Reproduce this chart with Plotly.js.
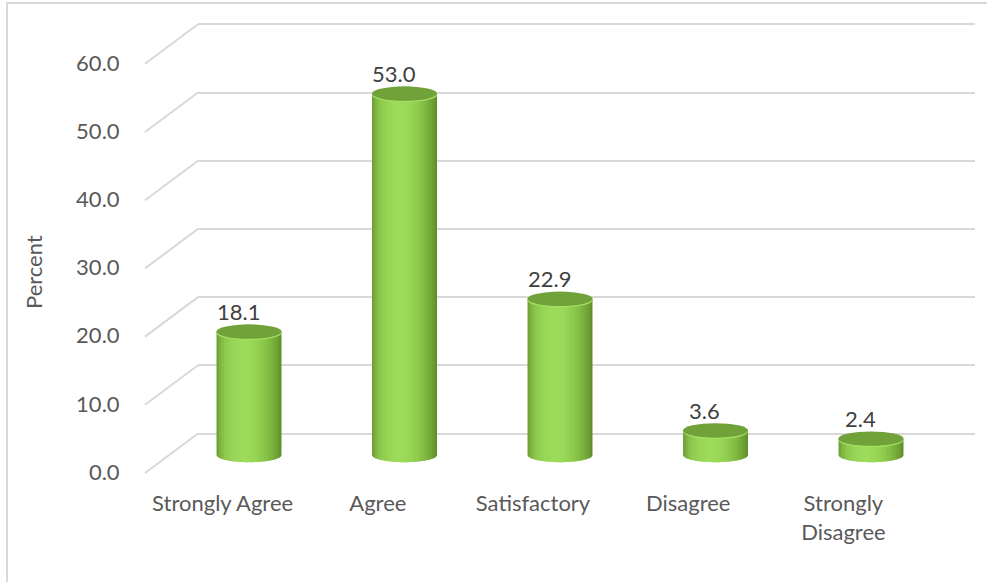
<!DOCTYPE html>
<html><head><meta charset="utf-8">
<script src="https://cdn.plot.ly/plotly-3.0.1.min.js"></script>
<style>html,body{margin:0;padding:0;background:#fff}#chart{width:987px;height:582px}</style>
</head><body><div id="chart"></div>
<script>
// ---- data ----
const categories = ["Strongly Agree", "Agree", "Satisfactory", "Disagree", "Strongly Disagree"];
const categoryLabels = ["Strongly Agree", "Agree", "Satisfactory", "Disagree", "Strongly<br>Disagree"];
const percentValues = [18.1, 53.0, 22.9, 3.6, 2.4];
const yTickValues = [0, 10, 20, 30, 40, 50, 60];
const yTickLabels = ["0.0", "10.0", "20.0", "30.0", "40.0", "50.0", "60.0"];
const yAxisTitle = "Percent";

// ---- geometry (pixels) ----
const W = 987, H = 582, MT = 20, MB = 102;
const plotTop = MT, plotBottom = H - MB, plotH = plotBottom - plotTop;
const PX_PER_UNIT = 6.82;
function rangeFor(zeroPx) { return [-(plotBottom - zeroPx) / PX_PER_UNIT, (zeroPx - plotTop) / PX_PER_UNIT]; }
function pX(px) { return px / W; }
function pY(py) { return (plotBottom - py) / plotH; }

const BACK_ZERO = 433.5, MID_ZERO = 455, FRONT_ZERO = 472;
const BACK_LEFT = 198, BACK_RIGHT = 975;
const MID_LEFT = 171.25, MID_RIGHT = 948.75;
const FRONT_LEFT = 145, FRONT_RIGHT = 921;

const idx = categories.map((_, i) => i);
const BAR_W = 0.418;
const ELL = 7.2 / PX_PER_UNIT; // half-height of end ellipses in data units

// cylinder shading profile across the width (fraction -> colour)
const shadeStops = [
  [0.00, [104, 150, 50]],
  [0.04, [122, 176, 62]],
  [0.12, [140, 199, 76]],
  [0.25, [152, 213, 86]],
  [0.42, [157, 220, 92]],
  [0.58, [152, 214, 86]],
  [0.72, [140, 200, 75]],
  [0.85, [124, 180, 62]],
  [0.95, [106, 156, 50]],
  [1.00, [92, 138, 42]]
];
function shadeAt(f) {
  for (let k = 1; k < shadeStops.length; k++) {
    if (f <= shadeStops[k][0]) {
      const [f0, c0] = shadeStops[k - 1], [f1, c1] = shadeStops[k];
      const t = (f - f0) / (f1 - f0);
      const c = c0.map((v, j) => Math.round(v + (c1[j] - v) * t));
      return 'rgb(' + c.join(',') + ')';
    }
  }
  return 'rgb(' + shadeStops[shadeStops.length - 1][1].join(',') + ')';
}
const NSTRIP = 26;
const strips = [];
for (let k = 0; k < NSTRIP; k++) {
  const a = k / NSTRIP, b = Math.min(1, (k + 1.6) / NSTRIP);
  strips.push([a, b, shadeAt((k + 0.5) / NSTRIP)]);
}

const traces = [];
traces.push({type: 'scatter', x: [], y: [], xaxis: 'x', yaxis: 'y', hoverinfo: 'skip', showlegend: false});
strips.forEach(([a, b, c]) => {
  traces.push({
    type: 'bar', x: idx, y: percentValues, xaxis: 'x2', yaxis: 'y2',
    width: (b - a) * BAR_W, offset: -BAR_W / 2 + a * BAR_W,
    marker: {color: c, line: {width: 0}}, hoverinfo: 'skip', showlegend: false
  });
});
traces.push({type: 'scatter', x: [], y: [], xaxis: 'x3', yaxis: 'y3', hoverinfo: 'skip', showlegend: false});

const shapes = [];
// outer frame
shapes.push({type: 'rect', xref: 'paper', yref: 'paper', x0: pX(7), x1: 1.2, y0: -0.6, y1: pY(3),
  line: {color: '#d9d9d9', width: 2}, fillcolor: 'rgba(0,0,0,0)', layer: 'below'});
// side-wall diagonals at each tick
yTickValues.forEach(v => {
  shapes.push({type: 'line', xref: 'paper', yref: 'paper',
    x0: pX(FRONT_LEFT), y0: pY(FRONT_ZERO + 1 - v * PX_PER_UNIT),
    x1: pX(BACK_LEFT), y1: pY(BACK_ZERO - v * PX_PER_UNIT),
    line: {color: '#d9d9d9', width: 2}, layer: 'below'});
});
// bottom rounded ends (per shading strip)
idx.forEach(i => {
  strips.forEach(([a, b, c]) => {
    const n = 6;
    let d = 'M' + (i - BAR_W / 2 + a * BAR_W) + ',0';
    for (let k = 0; k <= n; k++) {
      const f = a + (b - a) * k / n;
      const t = (f - 0.5) / 0.5;
      const yy = -ELL * Math.sqrt(Math.max(0, 1 - t * t));
      d += ' L' + (i - BAR_W / 2 + f * BAR_W) + ',' + yy;
    }
    d += ' L' + (i - BAR_W / 2 + b * BAR_W) + ',0 Z';
    shapes.push({type: 'path', xref: 'x2', yref: 'y2', path: d, fillcolor: c, line: {width: 0}, layer: 'below'});
  });
});
// top ellipses
idx.forEach(i => {
  const v = percentValues[i];
  shapes.push({type: 'circle', xref: 'x2', yref: 'y2', x0: i - BAR_W / 2, x1: i + BAR_W / 2,
    y0: v - ELL - 0.2, y1: v + ELL - 0.2, fillcolor: '#a2df63', line: {width: 0}, layer: 'above'});
  shapes.push({type: 'circle', xref: 'x2', yref: 'y2', x0: i - BAR_W / 2, x1: i + BAR_W / 2,
    y0: v - ELL, y1: v + ELL, fillcolor: '#71a23a', line: {width: 0}, layer: 'above'});
});

const annotations = idx.map(i => ({
  xref: 'x2', yref: 'y2', x: i, y: percentValues[i], text: percentValues[i].toFixed(1),
  showarrow: false, xshift: -11, yshift: 20, yanchor: 'middle', xanchor: 'center',
  font: {family: 'Lato, sans-serif', size: 22, color: '#404040'}
}));
annotations.push({xref: 'paper', yref: 'paper', x: pX(33), y: pY(272), text: yAxisTitle, textangle: -90,
  showarrow: false, xanchor: 'center', yanchor: 'middle', font: {family: 'Lato, sans-serif', size: 22, color: '#595959'}});

const layout = {
  width: W, height: H, margin: {l: 0, r: 0, t: MT, b: MB, pad: 0},
  paper_bgcolor: '#ffffff', plot_bgcolor: 'rgba(0,0,0,0)',
  barmode: 'overlay', showlegend: false,
  font: {family: 'Lato, sans-serif', size: 22, color: '#595959'},
  xaxis: {domain: [pX(BACK_LEFT), pX(BACK_RIGHT)], range: [0, 1], visible: false, anchor: 'y', fixedrange: true},
  yaxis: {domain: [0, 1], range: rangeFor(BACK_ZERO), tickvals: yTickValues, showgrid: true, gridcolor: '#d9d9d9',
    gridwidth: 2, showticklabels: false, ticks: '', zeroline: false, showline: false, anchor: 'x', fixedrange: true},
  xaxis2: {domain: [pX(MID_LEFT), pX(MID_RIGHT)], range: [-0.5, 4.5], visible: false, anchor: 'y2', fixedrange: true},
  yaxis2: {domain: [0, 1], range: rangeFor(MID_ZERO), visible: false, anchor: 'x2', fixedrange: true},
  xaxis3: {domain: [pX(FRONT_LEFT), pX(FRONT_RIGHT)], range: [-0.5, 4.5], tickvals: idx, ticktext: categoryLabels,
    showgrid: false, zeroline: false, showline: false, ticks: 'outside', ticklen: 4, tickcolor: 'rgba(0,0,0,0)',
    anchor: 'y3', fixedrange: true, automargin: false},
  yaxis3: {domain: [0, 1], range: rangeFor(FRONT_ZERO), tickvals: yTickValues, ticktext: yTickLabels,
    showgrid: false, zeroline: false, showline: false, ticks: 'outside', ticklen: 20, tickcolor: 'rgba(0,0,0,0)',
    anchor: 'x3', fixedrange: true, automargin: false},
  shapes: shapes,
  annotations: annotations
};

Plotly.newPlot('chart', traces, layout, {staticPlot: true, displayModeBar: false});
</script>
</body></html>
